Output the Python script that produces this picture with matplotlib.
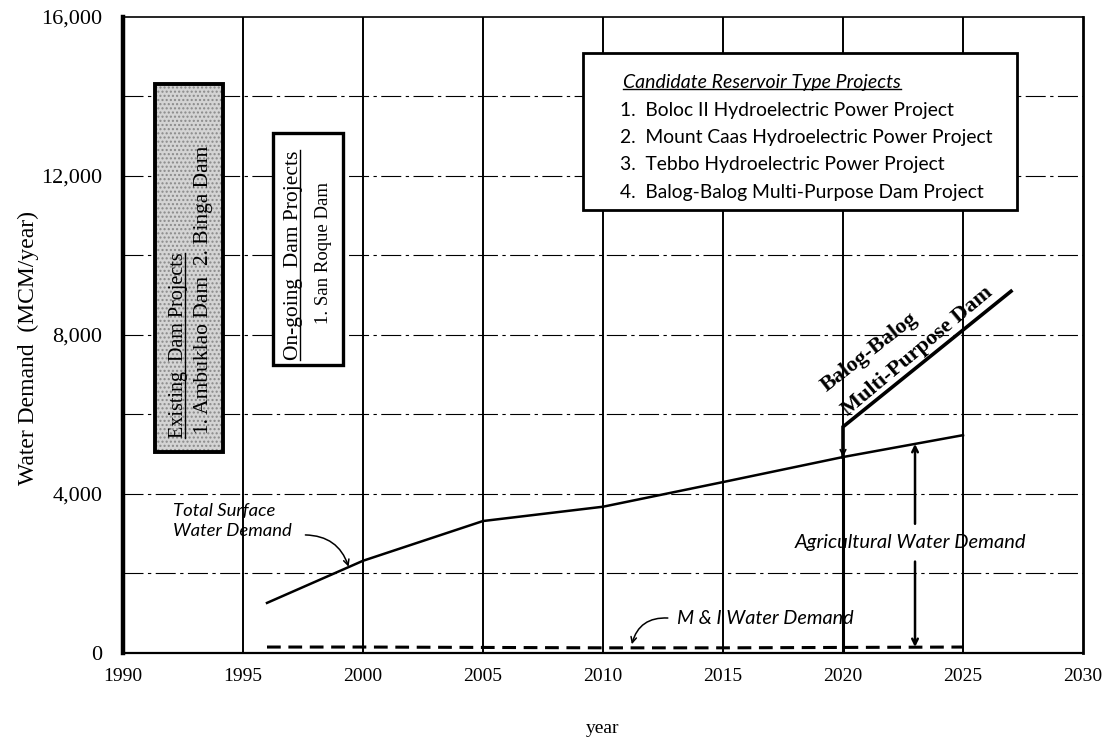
import matplotlib
matplotlib.use("Agg")
import matplotlib.pyplot as plt
from matplotlib import font_manager
from matplotlib.patches import Rectangle
from matplotlib.lines import Line2D
import matplotlib.ticker as mticker

# ---------------- data ----------------
total_years = [1996, 2000, 2005, 2010, 2015, 2020, 2025]
total_demand = [1260, 2320, 3320, 3680, 4300, 4930, 5480]

mi_years = [1996, 2000, 2005, 2010, 2015, 2020, 2025]
mi_demand = [150, 150, 140, 130, 130, 140, 150]

balog_years = [2020, 2020, 2027]
balog_demand = [4930, 5690, 9100]

agri_arrow_year = 2023
agri_top = 5260
agri_bottom = 150

x_ticks = [1990, 1995, 2000, 2005, 2010, 2015, 2020, 2025, 2030]
y_ticks = [0, 4000, 8000, 12000, 16000]
y_grid = [2000, 4000, 6000, 8000, 10000, 12000, 14000]

existing_title = "Existing  Dam Projects"
existing_items = "1. Ambuklao Dam  2. Binga Dam"
ongoing_title = "On-going  Dam Projects"
ongoing_items = "1. San Roque Dam"
candidate_title = "Candidate Reservoir Type Projects"
candidate_items = [
    "1.  Boloc II Hydroelectric Power Project",
    "2.  Mount Caas Hydroelectric Power Project",
    "3.  Tebbo Hydroelectric Power Project",
    "4.  Balog-Balog Multi-Purpose Dam Project",
]

# ---------------- fonts ----------------
installed = {f.name for f in font_manager.fontManager.ttflist}
SERIF = "Liberation Serif" if "Liberation Serif" in installed else "DejaVu Serif"
SANS = "Lato" if "Lato" in installed else "DejaVu Sans"

plt.rcParams["font.family"] = SERIF

fig = plt.figure(figsize=(11.1, 7.55), dpi=100)
ax = fig.add_axes([0.1108, 0.1351, 0.8649, 0.8424])
ax.set_xlim(1990, 2030)
ax.set_ylim(0, 16000)

# grid: solid verticals, dash-dot horizontals
for yr in x_ticks[1:-1]:
    ax.axvline(yr, color="black", lw=1.4, zorder=1)
for v in y_grid:
    ax.axhline(v, color="black", lw=0.8, ls=(0, (18, 4, 3, 4)), zorder=1)

ax.set_xticks(x_ticks)
ax.set_yticks(y_ticks)
ax.yaxis.set_major_formatter(mticker.FuncFormatter(lambda v, p: f"{int(v):,}"))
ax.tick_params(axis="both", length=0)
ax.tick_params(axis="x", pad=11)
ax.tick_params(axis="y", pad=15)
for lab in ax.get_xticklabels():
    lab.set_fontsize(14)
for lab in ax.get_yticklabels():
    lab.set_fontsize(16)

ax.set_xlabel("year", fontsize=14)
ax.xaxis.set_label_coords(0.5, -0.105)
ax.set_ylabel("Water Demand  (MCM/year)", fontsize=17)
ax.yaxis.set_label_coords(-0.087, 0.48)

ax.spines["left"].set_linewidth(3.2)
ax.spines["bottom"].set_linewidth(1.6)
ax.spines["right"].set_linewidth(2.0)
ax.spines["top"].set_linewidth(1.2)

# demand curves
ax.plot(total_years, total_demand, color="black", lw=1.8, zorder=4)
ax.plot(mi_years, mi_demand, color="black", lw=2.2, ls=(0, (4.5, 2.5)), zorder=4)
ax.plot(balog_years, balog_demand, color="black", lw=2.6, zorder=4,
        solid_joinstyle="miter")
ax.plot([balog_years[0]] * 2, [0, balog_demand[0]], color="black", lw=2.2, zorder=3)

# small tick pointing at the total line where Balog-Balog begins
ax.annotate("", xy=(balog_years[0], balog_demand[0]),
            xytext=(balog_years[0], balog_demand[0] + 450),
            arrowprops=dict(arrowstyle="->", lw=1.2, color="black",
                            shrinkA=0, shrinkB=0), zorder=5)

# labels on the curves
ax.text(1992.1, 3330, "Total Surface\nWater Demand", fontfamily=SANS,
        style="italic", fontsize=13.3, ha="left", va="center",
        linespacing=1.3, zorder=6)
ax.annotate("", xy=(1999.4, 2170), xytext=(1997.6, 2970),
            arrowprops=dict(arrowstyle="->", lw=1.1, color="black",
                            connectionstyle="arc3,rad=-0.35",
                            shrinkA=0, shrinkB=0), zorder=6)

ax.text(2013.1, 880, "M & I Water Demand", fontfamily=SANS, style="italic",
        fontsize=14.3, ha="left", va="center", zorder=6)
ax.annotate("", xy=(2011.2, 220), xytext=(2012.7, 880),
            arrowprops=dict(arrowstyle="->", lw=1.1, color="black",
                            connectionstyle="arc3,rad=0.4",
                            shrinkA=0, shrinkB=0), zorder=6)

ax.text(2022.8, 2770, "Agricultural Water Demand", fontfamily=SANS,
        style="italic", fontsize=14.5, ha="center", va="center", zorder=6)
ax.annotate("", xy=(agri_arrow_year, agri_top), xytext=(agri_arrow_year, 3250),
            arrowprops=dict(arrowstyle="->", lw=1.8, color="black",
                            shrinkA=0, shrinkB=0), zorder=5)
ax.annotate("", xy=(agri_arrow_year, agri_bottom), xytext=(agri_arrow_year, 2300),
            arrowprops=dict(arrowstyle="->", lw=1.8, color="black",
                            shrinkA=0, shrinkB=0), zorder=5)

ax.text(2021.1, 7560, "Balog-Balog", fontweight="bold", fontsize=16,
        rotation=38, ha="center", va="center", zorder=6)
ax.text(2023.1, 7580, "Multi-Purpose Dam", fontweight="bold", fontsize=16,
        rotation=40, ha="center", va="center", zorder=6)

# existing dams box (stippled)
ax.add_patch(Rectangle((1991.33, 5060), 2.84, 9250, facecolor="#d4d4d4",
                       edgecolor="#8a8a8a", hatch="....", lw=0, zorder=5))
ax.add_patch(Rectangle((1991.33, 5060), 2.84, 9250, facecolor="none",
                       edgecolor="black", lw=2.8, zorder=6))
t_ex1 = ax.text(1992.3, 5400, existing_title, rotation=90, fontsize=14.5,
                ha="center", va="bottom", zorder=7)
ax.text(1993.35, 5520, existing_items, rotation=90, fontsize=15.5,
        ha="center", va="bottom", zorder=7)

# on-going dams box
ax.add_patch(Rectangle((1996.25, 7245), 2.92, 5835, facecolor="white",
                       edgecolor="black", lw=2.4, zorder=5))
t_on1 = ax.text(1997.1, 10010, ongoing_title, rotation=90, fontsize=15.5,
                ha="center", va="center", zorder=7)
ax.text(1998.35, 10060, ongoing_items, rotation=90, fontsize=13.5,
        ha="center", va="center", zorder=7)

# candidate projects box
ax.add_patch(Rectangle((2009.17, 11145), 18.08, 3950, facecolor="white",
                       edgecolor="black", lw=2.0, zorder=5))
t_cand = ax.text(2010.85, 14340, candidate_title, fontfamily=SANS,
                 style="italic", fontsize=14, ha="left",
                 va="center", zorder=7)
for i, item in enumerate(candidate_items):
    ax.text(2010.7, 13660 - i * 690, item, fontfamily=SANS,
            fontsize=13.9, ha="left", va="center", zorder=7)


def underline(txt, vertical=False, frac=0.16):
    fig.canvas.draw()
    bb = txt.get_window_extent(fig.canvas.get_renderer())
    inv = fig.transFigure.inverted()
    if vertical:
        x = bb.x1 - frac * bb.width
        pts = inv.transform([(x, bb.y0), (x, bb.y1)])
    else:
        y = bb.y0 + frac * bb.height
        pts = inv.transform([(bb.x0, y), (bb.x1, y)])
    fig.add_artist(Line2D(pts[:, 0], pts[:, 1], color="black", lw=1.0,
                          transform=fig.transFigure, zorder=8))


underline(t_ex1, vertical=True)
underline(t_on1, vertical=True)
underline(t_cand)

fig.savefig("out.png", dpi=100)
